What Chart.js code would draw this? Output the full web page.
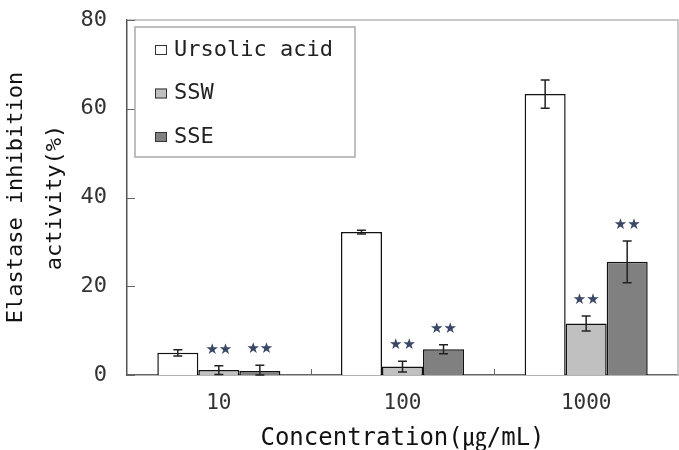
<!DOCTYPE html>
<html>
<head>
<meta charset="utf-8">
<script src="https://cdn.jsdelivr.net/npm/chart.js@4"></script>
<style>
  html, body { margin: 0; padding: 0; background: #fff; }
</style>
</head>
<body>
<canvas id="elastaseChart" width="679" height="450"></canvas>
<script>
// values
const concentrations = ["10", "100", "1000"];
const seriesNames = ["Ursolic acid", "SSW", "SSE"];
const ursolicAcid = [5.0, 32.2, 63.3];
const ursolicErr = [0.7, 0.4, 3.2];
const ssw = [1.1, 1.9, 11.6];
const sswErr = [1.0, 1.2, 1.7];
const sse = [0.9, 5.8, 25.5];
const sseErr = [1.3, 1.0, 4.7];
const sswMarks = ["★★", "★★", "★★"];
const sseMarks = ["★★", "★★", "★★"];
const yTicks = [0, 20, 40, 60, 80];

const MONO = "'DejaVu Sans Mono', 'Noto Sans CJK KR', monospace";

// error bars + significance marks
const errorBars = {
    id: 'errorBars',
    afterDatasetsDraw(chart) {
        const ctx = chart.ctx;
        const y = chart.scales.y;
        chart.data.datasets.forEach((ds, di) => {
            const meta = chart.getDatasetMeta(di);
            meta.data.forEach((bar, i) => {
                const v = ds.data[i];
                const e = ds.errors[i];
                const top = y.getPixelForValue(v + e);
                const bot = y.getPixelForValue(Math.max(0, v - e));
                ctx.save();
                ctx.strokeStyle = '#222';
                ctx.lineWidth = 1.5;
                ctx.beginPath();
                ctx.moveTo(bar.x, top); ctx.lineTo(bar.x, bot);
                ctx.moveTo(bar.x - 4.5, top); ctx.lineTo(bar.x + 4.5, top);
                ctx.moveTo(bar.x - 4.5, bot); ctx.lineTo(bar.x + 4.5, bot);
                ctx.stroke();
                if (ds.marks && ds.marks[i]) {
                    ctx.fillStyle = '#3a4866';
                    ctx.font = "15px 'DejaVu Sans'";
                    ctx.textAlign = 'center';
                    ctx.textBaseline = 'middle';
                    ctx.fillText(ds.marks[i], bar.x, top - 16);
                }
                ctx.restore();
            });
        });
    }
};

// frame, inward ticks and the boxed legend
const frame = {
    id: 'frame',
    afterDraw(chart) {
        const ctx = chart.ctx;
        const a = chart.chartArea;
        const y = chart.scales.y;
        const x = chart.scales.x;
        ctx.save();
        ctx.strokeStyle = '#b8b8b8';
        ctx.lineWidth = 1.5;
        ctx.beginPath();
        ctx.moveTo(a.left, a.top); ctx.lineTo(a.right, a.top); ctx.lineTo(a.right, a.bottom);
        ctx.stroke();

        ctx.strokeStyle = '#666';
        ctx.lineWidth = 1;
        ctx.beginPath();
        yTicks.forEach(v => {
            const py = Math.round(y.getPixelForValue(v)) + 0.5;
            ctx.moveTo(a.left, py); ctx.lineTo(a.left + 8, py);
        });
        for (let i = 1; i < concentrations.length; i++) {
            const px = Math.round((x.getPixelForValue(i - 1) + x.getPixelForValue(i)) / 2) + 0.5;
            ctx.moveTo(px, a.bottom); ctx.lineTo(px, a.bottom - 6);
        }
        ctx.stroke();

        // legend
        const lx = a.left + 8, ly = a.top + 7, lw = 220, lh = 130;
        ctx.fillStyle = '#fff';
        ctx.fillRect(lx, ly, lw, lh);
        ctx.strokeStyle = '#aaa';
        ctx.lineWidth = 1.5;
        ctx.strokeRect(lx, ly, lw, lh);
        ctx.font = '22px ' + MONO;
        ctx.textBaseline = 'middle';
        ctx.textAlign = 'left';
        chart.data.datasets.forEach((ds, i) => {
            const cy = ly + 23 + i * 43.5;
            ctx.fillStyle = ds.backgroundColor;
            ctx.fillRect(lx + 20, cy - 5, 12, 10);
            ctx.strokeStyle = '#333';
            ctx.lineWidth = 1;
            ctx.strokeRect(lx + 20.5, cy - 4.5, 11, 9);
            ctx.fillStyle = '#222';
            ctx.fillText(ds.label, lx + 39, cy);
        });
        ctx.restore();
    }
};

function makeSet(label, data, errors, marks, color) {
    return {
        label: label,
        data: data,
        errors: errors,
        marks: marks,
        backgroundColor: color,
        borderColor: '#111',
        borderWidth: 1.5,
        categoryPercentage: 0.67,
        barPercentage: 1.0
    };
}

new Chart(document.getElementById('elastaseChart'), {
    type: 'bar',
    data: {
        labels: concentrations,
        datasets: [
            makeSet(seriesNames[0], ursolicAcid, ursolicErr, null, '#ffffff'),
            makeSet(seriesNames[1], ssw, sswErr, sswMarks, '#c0c0c0'),
            makeSet(seriesNames[2], sse, sseErr, sseMarks, '#808080')
        ]
    },
    options: {
        responsive: false,
        animation: false,
        layout: { padding: { top: 20, right: 1, left: 0, bottom: 0 } },
        plugins: {
            legend: { display: false },
            tooltip: { enabled: false }
        },
        scales: {
            x: {
                grid: { display: false, drawTicks: false },
                border: { color: '#666', width: 1.5 },
                ticks: { font: { family: MONO, size: 21 }, color: '#333', padding: 16 },
                title: {
                    display: true,
                    text: 'Concentration(㎍/mL)',
                    font: { family: MONO, size: 24, lineHeight: 0.9 },
                    color: '#111',
                    padding: 0
                },
                afterFit: s => { s.height = 75; }
            },
            y: {
                min: 0,
                max: 80,
                afterBuildTicks: s => { s.ticks = yTicks.map(v => ({ value: v })); },
                grid: { display: false, drawTicks: false },
                border: { color: '#555', width: 1.5 },
                ticks: { font: { family: MONO, size: 22 }, color: '#333', padding: 20 },
                title: {
                    display: true,
                    text: ['Elastase inhibition', 'activity(%)'],
                    font: { family: MONO, size: 22, lineHeight: 1.8 },
                    color: '#111',
                    padding: { top: -4, bottom: 0 }
                },
                afterFit: s => {
                    s.width = 127;
                    s.paddingTop = 0;
                    s.paddingBottom = 0;
                }
            }
        }
    },
    plugins: [errorBars, frame]
});
</script>
</body>
</html>
